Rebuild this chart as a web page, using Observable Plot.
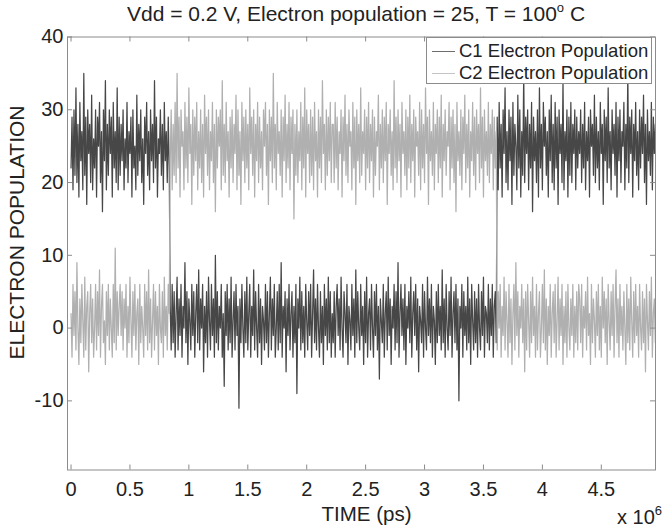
<!DOCTYPE html>
<html>
<head>
<meta charset="utf-8">
<script src="https://cdn.jsdelivr.net/npm/d3@7"></script>
<script src="https://cdn.jsdelivr.net/npm/@observablehq/plot@0.6"></script>
<style>
  body { margin: 0; background: #fff; }
  #wrap { position: relative; width: 663px; height: 527px; font-family: "Liberation Sans", Arial, sans-serif; color: #222; }
  #title { position: absolute; top: 1px; left: 356px; transform: translateX(-50%); white-space: nowrap; font-size: 21px; line-height: 26px; }
  #title sup, #exp sup { font-size: 13px; vertical-align: 9px; line-height: 0; }
  #exp { position: absolute; left: 617px; top: 505px; font-size: 20px; line-height: 24px; white-space: nowrap; }
  #legend { position: absolute; left: 426px; top: 37px; width: 226px; height: 47px; border: 1px solid #8c8c8c; background: #fff; box-sizing: border-box; }
  .row { position: absolute; left: 5px; height: 22px; display: flex; align-items: center; font-size: 18.5px; white-space: nowrap; }
  .sw { display: inline-block; width: 23px; height: 0; border-top: 1px solid; margin-right: 4px; }
</style>
</head>
<body>
<div id="wrap">
  <div id="title">Vdd = 0.2 V, Electron population = 25, T = 100<sup>o</sup> C</div>
  <div id="chart"></div>
  <div id="legend">
    <div class="row" style="top:2px"><span class="sw" style="border-color:#6e6e6e"></span>C1 Electron Population</div>
    <div class="row" style="top:24px"><span class="sw" style="border-color:#c4c4c4"></span>C2 Electron Population</div>
  </div>
  <div id="exp">x 10<sup>6</sup></div>
</div>
<script>
// sampling interval of the recorded traces (ps)
const sampleStep = 1e6 / 120;

// C1 electron population samples
const c1 = [
  22, 29, 19, 30, 21, 33, 20, 28, 18, 31, 23, 27, 19, 35, 21, 29, 17, 30, 24, 28,
  20, 32, 19, 26, 22, 30, 18, 29, 25, 31, 20, 27, 16, 30, 23, 34, 19, 28, 21, 30,
  24, 29, 18, 31, 22, 27, 20, 33, 19, 29, 21,
  28, 23, 30, 19, 26, 22, 31, 20, 27, 24, 29, 18, 30, 22, 25, 19, 32, 21, 28, 23,
  30, 20, 26, 17, 29, 24, 31, 21, 27, 19, 30, 23, 28, 20, 34, 22, 29, 18, 26, 24,
  30, 21, 28, 19, 31, 23, 27, 20, 29, 22,
  3, -3, 6, -2, 5, -4, 2, 7, -3, 4, -1, 6, -4, 3, 0, 9, -2, 5, -5, 4,
  1, -3, 6, -1, 5, -4, 2, 6, -2, 8, -3, 4, 0, 6, -6, 3, -2, 5, -4, 7,
  1, -3, 6, -1, 4, -4, 10, -2, 5, -3, 3, 0, 6, -4, 2, -8, 5, -1, 6, -3,
  4, -2, 7, -4, 1, 5, -3, 6, -1, 3, -11, 4, -2, 6, 0, -4, 5, -2, 7, -3,
  2, 6, -4, 3, -1, 8, -3, 5, 0, -4, 6, -2, 4, -5, 3, 1, -3, 6, -2, 5,
  -4, 2, 7, -3, 4, -1, 6, -4, 0, 5, -3, 6, -2, 9, -4, 3, 0, 5, -6, 4,
  -1, 6, -3, 2, 5, -4, 3, -2, 6, -9, 4, 0, 7, -3, 5, -2, 3, -4, 6, 1,
  -3, 5, -1, 6, -4, 2, 8, -2, 4, -3, 6, 0, -4, 5, -2, 3, -5, 6, -1, 4,
  -3, 7, -2, 5, -4, 2,
  -2, 5, -4, 3, 6, -1, 4, -3, 7, 0, -4, 5, 2, -2, 6, -5, 3, 1, -3, 6,
  -1, 4, -4, 8, -2, 5, 0, -3, 6, -1, 3, -5, 5, -2, 7, -4, 2, 4, -3, 6,
  0, -4, 5, -1, 6, -3, 3, -7, 4, 1, -2, 6, -4, 2, 5, -3, 7, -1, 4, -5,
  3, 0, 6, -3, 5, -2, 9, -4, 2, 6, -1, 4, -3, 6, -5, 3, 0, 5, -2, 7,
  -4, 2, 5, -1, 6, -3, 4, -6, 3, 1, -2, 6, -4, 5, 0, -3, 7, -1, 4, -2,
  6, -4, 3, 1, -5, 5, -2, 6, -1, 3, -3, 8, -2, 4, -4, 6, 0, -3, 5, -1,
  7, -4, 2, 5, -2, 6, -3, 4, -10, 3, 0, 6, -4, 5, -1, 3, -3, 7, -2, 4,
  -5, 6, 1, -3, 5, -2, 4, -4, 6, 0, -3, 5, -1, 7, -4, 3, 2, -2, 6, -3,
  4, -1, 6, -4, 3, 5, -2,
  29, 19, 31, 22, 28, 18, 30, 24, 33, 20, 27, 19, 30, 23, 29, 17, 31, 21, 28, 25,
  19, 32, 22, 30, 18, 27, 21, 35, 20, 29, 24, 30, 19, 28, 22, 31, 16, 29, 23, 27,
  20, 30, 18, 33, 22, 28, 19, 31, 25, 29, 21, 27, 18, 30, 23, 32, 20, 28, 19, 31,
  22, 29, 17, 30, 24, 28, 20, 34, 19, 27, 23, 30, 18, 29, 21, 31, 20, 28, 24, 30,
  19, 29, 22, 27,
  24, 30, 20, 28, 22, 31, 19, 27, 23, 29, 18, 30, 25, 28, 21, 32, 20, 29, 22, 27,
  19, 31, 24, 28, 17, 30, 23, 29, 20, 33, 22, 27, 19, 30, 24, 28, 21, 31, 18, 29,
  23, 30, 20, 27, 25, 31, 19, 28, 22, 35, 20, 29, 24, 30, 18, 28, 23, 31, 21, 27,
  19, 30, 22, 29, 24, 32, 20, 28, 17, 30, 23, 27, 21, 31, 19, 29, 24, 28, 20, 30,
  22, 29, 21
];

// C2 electron population samples
const c2 = [
  2, -4, 6, -1, 5, -3, 9, 0, -5, 4, -2, 6, 1, -4, 7, -3, 3, 5, -6, 2,
  6, -2, 4, -4, 0, 6, -3, 5, -1, 8, -4, 3, 6, -2, 1, -5, 5, -1, 6, -3,
  4, 0, -4, 6, -2, 11, -3, 5, -1, 3, 6,
  -1, 5, -3, 4, 0, 6, -4, 3, -2, 7, 1, -4, 5, -1, 6, -3, 2, 4, -5, 6,
  -2, 3, 0, -4, 6, -1, 5, -3, 8, -2, 4, -4, 1, 6, -3, 5, -1, 3, -5, 6,
  0, -2, 5, -4, 7, -1, 3, -3, 6, 2,
  23, 30, 19, 28, 21, 31, 20, 35, 22, 29, 18, 30, 25, 27, 19, 31, 22, 29, 20, 33,
  24, 28, 17, 30, 21, 29, 23, 31, 19, 27, 22, 30, 20, 28, 18, 32, 24, 29, 21, 30,
  19, 27, 23, 31, 20, 28, 16, 30, 22, 29, 25, 30, 19, 34, 21, 28, 20, 31, 23, 27,
  18, 29, 22, 30, 20, 28, 24, 32, 19, 30, 21, 27, 17, 31, 23, 29, 20, 30, 22, 28,
  19, 33, 24, 29, 21, 30, 18, 28, 23, 31, 20, 29, 22, 27, 19, 30, 25, 31, 21, 28,
  17, 30, 23, 29, 20, 35, 22, 28, 19, 31, 24, 27, 21, 30, 18, 29, 23, 32, 20, 28,
  22, 31, 19, 29, 24, 30, 15, 28, 21, 30, 20, 27, 23, 31, 19, 29, 22, 33, 18, 30,
  24, 28, 20, 30, 21, 29, 19, 31, 23, 27, 18, 30, 22, 29, 20, 34, 24, 28, 19, 30,
  21, 29, 23, 31, 20, 28,
  28, 20, 31, 22, 29, 19, 27, 24, 30, 18, 29, 23, 32, 21, 28, 20, 30, 25, 27, 19,
  31, 22, 29, 17, 30, 23, 28, 20, 33, 21, 27, 24, 30, 19, 29, 22, 31, 20, 28, 23,
  30, 18, 29, 21, 27, 25, 32, 19, 28, 22, 30, 20, 29, 23, 31, 17, 28, 24, 30, 21,
  27, 19, 34, 22, 29, 20, 30, 23, 28, 18, 31, 24, 27, 21, 30, 19, 29, 22, 32, 20,
  28, 23, 30, 18, 29, 25, 27, 21, 31, 19, 30, 22, 28, 20, 33, 24, 29, 17, 30, 23,
  27, 21, 31, 19, 28, 24, 30, 20, 29, 22, 32, 18, 28, 23, 30, 21, 27, 25, 31, 19,
  29, 22, 30, 20, 28, 16, 31, 23, 27, 21, 30, 19, 29, 24, 32, 20, 28, 22, 30, 18,
  27, 23, 31, 21, 29, 19, 30, 24, 28, 20, 33, 22, 29, 18, 30, 23, 27, 21, 31, 20,
  28, 24, 30, 19, 29, 22, 27,
  -3, 5, 0, 6, -4, 3, -1, 7, -3, 5, 1, -4, 6, -2, 4, -5, 2, 6, -3, 9,
  -1, 5, -4, 3, 0, 6, -2, 4, -6, 5, -3, 6, 1, -4, 5, -2, 7, -1, 3, -4,
  6, -3, 2, 5, -4, 0, 6, -2, 8, -3, 4, -5, 3, -1, 6, -4, 2, 5, -2, 6,
  -4, 1, 7, -3, 4, -1, 6, -5, 3, -2, 5, -4, 6, 0, -3, 4, -1, 6, -4, 3,
  -2, 5, -3, 6,
  4, -2, 6, -4, 3, 0, 5, -3, 7, -1, 2, -5, 6, -2, 4, 1, -4, 5, -1, 6,
  -3, 3, -4, 7, 0, 5, -2, 4, -5, 6, 1, -3, 5, -1, 6, -4, 3, 8, -2, 4,
  -4, 6, -1, 3, -3, 5, 0, -5, 6, -2, 4, -3, 7, 1, -4, 5, -2, 6, -1, 3,
  -4, 6, 0, -3, 5, -2, 4, -6, 6, 1, -3, 5, -1, 7, -4, 2, 4, -2, 6, -3,
  5, -1, 3
];

const xTicks = [0, 0.5e6, 1e6, 1.5e6, 2e6, 2.5e6, 3e6, 3.5e6, 4e6, 4.5e6];
const yTicks = [-10, 0, 10, 20, 30, 40];

const series1 = c1.map((v, i) => ({t: i * sampleStep, v}));
const series2 = c2.map((v, i) => ({t: i * sampleStep, v}));

const W = 663, H = 527;
const mL = 67, mR = 8, mT = 36.5, mB = 57.5;
const fW = W - mL - mR, fH = H - mT - mB;
const axisColor = "#8c8c8c";
const tick = 5;

const plot = Plot.plot({
  width: W,
  height: H,
  marginLeft: mL,
  marginRight: mR,
  marginTop: mT,
  marginBottom: mB,
  style: {fontFamily: "'Liberation Sans', Arial, sans-serif", fontSize: "20px", color: "#222", background: "transparent"},
  x: {domain: [-0.03e6, 4.96e6]},
  y: {domain: [-19.5, 40]},
  marks: [
    Plot.line(series1, {x: "t", y: "v", stroke: "#474747", strokeWidth: 1.25, clip: true}),
    Plot.line(series2, {x: "t", y: "v", stroke: "#b0b0b0", strokeWidth: 1.25, clip: true}),
    Plot.frame({stroke: axisColor, strokeWidth: 1}),
    Plot.tickX(xTicks, {x: d => d, insetTop: fH - tick, stroke: axisColor}),
    Plot.tickX(xTicks, {x: d => d, insetBottom: fH - tick, stroke: axisColor}),
    Plot.tickY(yTicks, {y: d => d, insetRight: fW - tick, stroke: axisColor}),
    Plot.tickY(yTicks, {y: d => d, insetLeft: fW - tick, stroke: axisColor}),
    Plot.axisX(xTicks, {tickSize: 0, tickPadding: 12, tickFormat: d => String(d / 1e6), label: null, fontSize: 20}),
    Plot.axisY(yTicks, {tickSize: 0, tickPadding: 4, tickFormat: d => String(d), label: null, fontSize: 20}),
    Plot.text(["ELECTRON POPULATION"], {frameAnchor: "left", text: d => d, textAnchor: "middle", lineAnchor: "middle", rotate: -90, dx: -50, dy: -21, fontSize: 21, fill: "#222"}),
    Plot.text(["TIME (ps)"], {frameAnchor: "bottom", text: d => d, textAnchor: "middle", lineAnchor: "middle", dx: 5, dy: 44, fontSize: 20.5, fill: "#222"})
  ]
});
document.getElementById("chart").appendChild(plot);
</script>
</body>
</html>
